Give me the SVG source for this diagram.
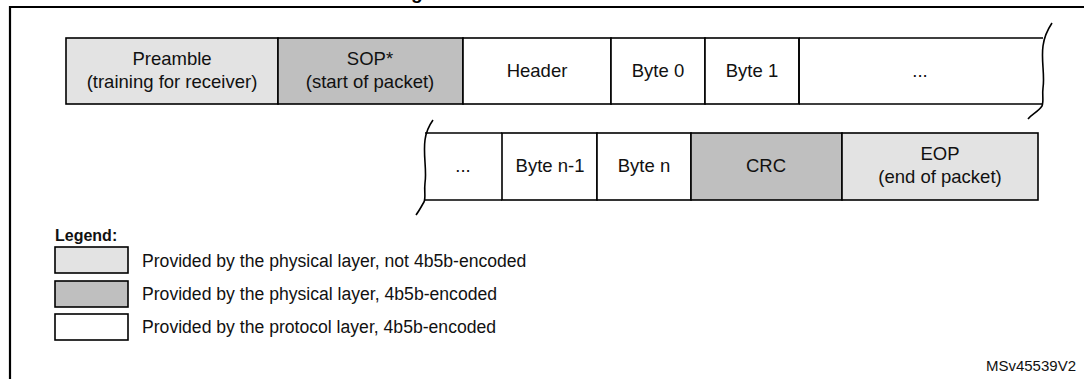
<svg xmlns="http://www.w3.org/2000/svg" width="1084" height="379" viewBox="0 0 1084 379">
<style>
.box{stroke:#000;stroke-width:1.6}
.l1{fill:#e3e3e3}
.l2{fill:#bfbfbf}
.w{fill:#fff}
.t{font-family:"Liberation Sans",Arial,sans-serif;font-size:18.5px;fill:#111;text-anchor:middle}
.lg{font-family:"Liberation Sans",Arial,sans-serif;font-size:17.6px;fill:#111}
.wave{fill:none;stroke:#000;stroke-width:1.6}
</style>
<rect width="1084" height="379" fill="#fff"/>
<text x="411" y="-1.5" font-family="Liberation Sans,Arial,sans-serif" font-weight="bold" font-size="19" fill="#000">g</text>
<path d="M10 379 V7 H1084" fill="none" stroke="#000" stroke-width="2.2"/>

<g id="row1">
  <g id="preamble"><rect class="box l1" x="66" y="38" width="212" height="66"/>
    <text class="t" x="172" y="65">Preamble</text><text class="t" x="172" y="88">(training for receiver)</text></g>
  <g id="sop"><rect class="box l2" x="278" y="38" width="185" height="66"/>
    <text class="t" x="370" y="65">SOP*</text><text class="t" x="370" y="88">(start of packet)</text></g>
  <g id="header"><rect class="box w" x="463" y="38" width="148" height="66"/>
    <text class="t" x="537" y="77">Header</text></g>
  <g id="byte0"><rect class="box w" x="611" y="38" width="94" height="66"/>
    <text class="t" x="658" y="77">Byte 0</text></g>
  <g id="byte1"><rect class="box w" x="705" y="38" width="94" height="66"/>
    <text class="t" x="752" y="77">Byte 1</text></g>
  <g id="dots1"><path class="box w" d="M799 38 H1043 M799 104 H1043 M799 38 V104"/>
    <text class="t" x="920" y="77">...</text></g>
  <path class="wave" d="M1052 23 C1046 32 1044 38 1043 46 C1041 60 1045 75 1043 88 C1042 96 1044 101 1042 106 C1038 112 1032 114 1028 119"/>
</g>

<g id="row2">
  <path class="wave" d="M433 120 C428 127 426 132 425 140 C423 155 427 170 425 183 C424 192 426 197 424 202 C421 207 419 211 416 215"/>
  <g id="dots2"><path class="box" fill="#fff" d="M425 133 H502 M425 200 H502"/>
    <text class="t" x="463" y="172">...</text></g>
  <g id="byten1"><rect class="box w" x="502" y="133" width="95" height="67"/>
    <text class="t" x="550" y="172">Byte n-1</text></g>
  <g id="byten"><rect class="box w" x="597" y="133" width="94" height="67"/>
    <text class="t" x="644" y="172">Byte n</text></g>
  <g id="crc"><rect class="box l2" x="691" y="133" width="151" height="67"/>
    <text class="t" x="766" y="172">CRC</text></g>
  <g id="eop"><rect class="box l1" x="842" y="133" width="196" height="67"/>
    <text class="t" x="940" y="160">EOP</text><text class="t" x="940" y="183">(end of packet)</text></g>
</g>

<g id="legend">
  <text x="55" y="241" font-family="Liberation Sans,Arial,sans-serif" font-weight="bold" font-size="16" fill="#111">Legend:</text>
  <g id="leg1"><rect class="box l1" x="55" y="247" width="73" height="26"/>
    <text class="lg" x="142" y="267">Provided by the physical layer, not 4b5b-encoded</text></g>
  <g id="leg2"><rect class="box l2" x="55" y="281" width="73" height="26"/>
    <text class="lg" x="142" y="300">Provided by the physical layer, 4b5b-encoded</text></g>
  <g id="leg3"><rect class="box w" x="55" y="314" width="73" height="26"/>
    <text class="lg" x="142" y="333">Provided by the protocol layer, 4b5b-encoded</text></g>
</g>
<text x="1076" y="371" text-anchor="end" font-family="Liberation Sans,Arial,sans-serif" font-size="15" fill="#111">MSv45539V2</text>
</svg>
